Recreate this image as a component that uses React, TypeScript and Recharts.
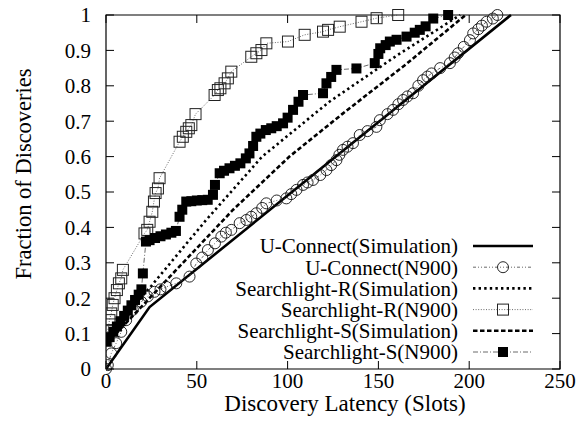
import { LineChart, Line, XAxis, YAxis, ReferenceArea } from 'recharts';

const uconnSimX = [0, 24, 223];
const uconnSimF = [0, 0.175, 1];

const uconnN900X = [0, 1, 2.9, 5.6, 8.4, 11.1, 14.8, 19.4, 23, 26.7, 30, 33.2, 38.7, 46, 49.7, 53, 56.1, 60, 63.5, 66, 69, 73.6, 77.3, 80, 82.8, 86, 88.3, 94, 99.3, 102, 104.9, 108.5, 111, 114, 118, 121.4, 124, 126.9, 128.5, 130.5, 133, 136, 139.7, 144, 148.9, 150.8, 155, 158.1, 161, 163.6, 166, 169.1, 172, 174.6, 177, 179.3, 184, 189.4, 192, 193.9, 197, 200.4, 202.2, 205, 207, 209.6, 213, 215.5];
const uconnN900F = [0, 0.011, 0.044, 0.073, 0.105, 0.138, 0.167, 0.19, 0.205, 0.218, 0.225, 0.232, 0.242, 0.261, 0.298, 0.315, 0.336, 0.355, 0.374, 0.385, 0.393, 0.412, 0.421, 0.43, 0.44, 0.455, 0.468, 0.476, 0.482, 0.494, 0.506, 0.52, 0.527, 0.534, 0.548, 0.562, 0.576, 0.59, 0.605, 0.619, 0.628, 0.638, 0.661, 0.672, 0.684, 0.703, 0.72, 0.732, 0.748, 0.76, 0.77, 0.779, 0.8, 0.816, 0.826, 0.835, 0.85, 0.864, 0.88, 0.892, 0.91, 0.929, 0.948, 0.96, 0.97, 0.981, 0.99, 1];

const srSimX = [0, 25, 55, 86, 123, 160, 195];
const srSimF = [0.09, 0.235, 0.42, 0.6, 0.755, 0.885, 1];

const srN900X = [0.1, 1, 1.9, 2.9, 3.7, 4.7, 6, 7.1, 8.4, 9.3, 21.2, 22.7, 24, 25.5, 26.4, 27.3, 28.6, 29.5, 40.5, 42.3, 44.2, 45.6, 47, 49.3, 59.8, 61.6, 63, 65.3, 67.1, 69, 80, 82.8, 85.6, 88.3, 100.2, 109.4, 119.5, 122.3, 128.7, 140.7, 149, 160.9];
const srN900F = [0.082, 0.11, 0.138, 0.157, 0.181, 0.2, 0.223, 0.242, 0.256, 0.28, 0.383, 0.393, 0.416, 0.444, 0.473, 0.497, 0.51, 0.539, 0.642, 0.656, 0.67, 0.68, 0.689, 0.72, 0.774, 0.788, 0.793, 0.807, 0.821, 0.84, 0.882, 0.892, 0.901, 0.92, 0.925, 0.944, 0.953, 0.958, 0.967, 0.981, 0.991, 1];

const ssSimX = [0, 35, 70, 101, 130, 165, 198];
const ssSimF = [0.07, 0.26, 0.45, 0.6, 0.72, 0.86, 1];

const ssN900X = [0, 2, 4, 6, 8, 10, 12, 14, 16, 18, 19.5, 20.3, 22, 24, 27, 30, 33, 36, 38.5, 40.5, 42, 44.2, 47, 50, 53, 56, 58.9, 60, 62.6, 65, 68, 71, 74, 77, 79, 81, 82.8, 85, 88, 91, 94, 97.5, 100, 103, 106, 108.5, 119.5, 121.4, 124, 126.9, 137.9, 148, 150, 151, 154, 156.3, 160, 165.5, 170, 172.8, 176, 180.2, 188.4];
const ssN900F = [0.077, 0.09, 0.105, 0.12, 0.135, 0.15, 0.165, 0.18, 0.195, 0.21, 0.225, 0.27, 0.36, 0.364, 0.37, 0.375, 0.38, 0.385, 0.39, 0.43, 0.45, 0.473, 0.474, 0.476, 0.477, 0.478, 0.492, 0.52, 0.553, 0.56, 0.567, 0.574, 0.581, 0.595, 0.609, 0.63, 0.656, 0.665, 0.675, 0.68, 0.686, 0.694, 0.71, 0.732, 0.755, 0.774, 0.779, 0.807, 0.825, 0.845, 0.849, 0.864, 0.89, 0.906, 0.915, 0.925, 0.93, 0.939, 0.95, 0.958, 0.968, 0.99, 1];

const xTicks = [0, 50, 100, 150, 200, 250];
const yTicks = [0, 0.1, 0.2, 0.3, 0.4, 0.5, 0.6, 0.7, 0.8, 0.9, 1];

const legendNames = [
  'U-Connect(Simulation)',
  'U-Connect(N900)',
  'Searchlight-R(Simulation)',
  'Searchlight-R(N900)',
  'Searchlight-S(Simulation)',
  'Searchlight-S(N900)',
];

const zip = (xs: number[], fs: number[]) => xs.map((x, i) => ({ x, f: fs[i] }));

const serif = { fontFamily: 'Liberation Serif, Times New Roman, DejaVu Serif, serif' };
const TOP = 15;
const BOTTOM = 369;
const LEFT = 106;
const RIGHT = 560;

const STYLES = [
  { stroke: '#000', width: 2.6, dash: undefined, marker: null },
  { stroke: '#444', width: 0.8, dash: '3 2 1 2 1 2', marker: 'circle' },
  { stroke: '#000', width: 2.6, dash: '2.4 3.2', marker: null },
  { stroke: '#444', width: 0.8, dash: '1 1.6', marker: 'open' },
  { stroke: '#000', width: 2.6, dash: '4.5 2.5', marker: null },
  { stroke: '#444', width: 0.8, dash: '5 2 1 2', marker: 'filled' },
];

function Marker({ kind, cx, cy }: { kind: string | null; cx: number; cy: number }) {
  if (kind === 'circle') return <circle cx={cx} cy={cy} r={5.5} fill="none" stroke="#111" strokeWidth={0.9} />;
  if (kind === 'open') return <rect x={cx - 5.5} y={cy - 5.5} width={11} height={11} fill="none" stroke="#222" strokeWidth={1} />;
  if (kind === 'filled') return <rect x={cx - 5} y={cy - 5} width={10} height={10} fill="#000" />;
  return null;
}

const dotFor = (kind: string) => (p: any) => (
  <g key={`${kind}-${p.index}`}>
    <Marker kind={kind} cx={p.cx} cy={p.cy} />
  </g>
);

function XTick({ x, payload }: any) {
  return (
    <g>
      <line x1={x} x2={x} y1={BOTTOM} y2={BOTTOM - 8} stroke="#000" />
      <line x1={x} x2={x} y1={TOP} y2={TOP + 8} stroke="#000" />
      <text x={x} y={388} textAnchor="middle" style={serif} fontSize={21} fill="#000">
        {payload.value}
      </text>
    </g>
  );
}

function YTick({ y, payload }: any) {
  return (
    <g>
      <line x1={LEFT} x2={LEFT + 8} y1={y} y2={y} stroke="#000" />
      <line x1={RIGHT} x2={RIGHT - 8} y1={y} y2={y} stroke="#000" />
      <text x={91} y={y} dy="0.35em" textAnchor="end" style={serif} fontSize={21} fill="#000">
        {String(+Number(payload.value).toFixed(1))}
      </text>
    </g>
  );
}

function KeyAndTitles() {
  return (
    <g>
      <text x={345} y={411} textAnchor="middle" style={serif} fontSize={23} fill="#000">
        Discovery Latency (Slots)
      </text>
      <text
        x={23}
        y={174}
        transform="rotate(-90, 23, 174)"
        textAnchor="middle"
        dominantBaseline="central"
        style={serif}
        fontSize={22.5}
        fill="#000"
      >
        Fraction of Discoveries
      </text>
      {legendNames.map((name, i) => {
        const y = 246 + i * 21.2;
        const s = STYLES[i];
        return (
          <g key={name}>
            <text x={458} y={y} dy="0.35em" textAnchor="end" style={serif} fontSize={21} fill="#000">
              {name}
            </text>
            <line x1={473} x2={533} y1={y} y2={y} stroke={s.stroke} strokeWidth={s.width} strokeDasharray={s.dash} />
            <Marker kind={s.marker} cx={503} cy={y} />
          </g>
        );
      })}
    </g>
  );
}

const series = [
  zip(uconnSimX, uconnSimF),
  zip(uconnN900X, uconnN900F),
  zip(srSimX, srSimF),
  zip(srN900X, srN900F),
  zip(ssSimX, ssSimF),
  zip(ssN900X, ssN900F),
];

export default function App() {
  return (
    <div style={{ position: 'absolute', left: 0, top: 0, background: '#fff' }}>
      <LineChart width={580} height={434} margin={{ top: TOP, right: 580 - RIGHT, bottom: 0, left: 0 }}>
        <XAxis
          dataKey="x"
          type="number"
          domain={[0, 250]}
          ticks={xTicks}
          height={65}
          axisLine={false}
          tickLine={false}
          tick={<XTick />}
          allowDataOverflow
        />
        <YAxis
          dataKey="f"
          type="number"
          domain={[0, 1]}
          ticks={yTicks}
          width={LEFT}
          axisLine={false}
          tickLine={false}
          tick={<YTick />}
        />
        <ReferenceArea x1={0} x2={250} y1={0} y2={1} fill="none" stroke="#000" strokeWidth={1.2} ifOverflow="visible" />
        {series.map((data, i) => {
          const s = STYLES[i];
          return (
            <Line
              key={legendNames[i]}
              data={data}
              dataKey="f"
              type="linear"
              stroke={s.stroke}
              strokeWidth={s.width}
              strokeDasharray={s.dash}
              dot={s.marker ? dotFor(s.marker) : false}
              activeDot={false}
              isAnimationActive={false}
            />
          );
        })}
        <KeyAndTitles />
      </LineChart>
    </div>
  );
}
